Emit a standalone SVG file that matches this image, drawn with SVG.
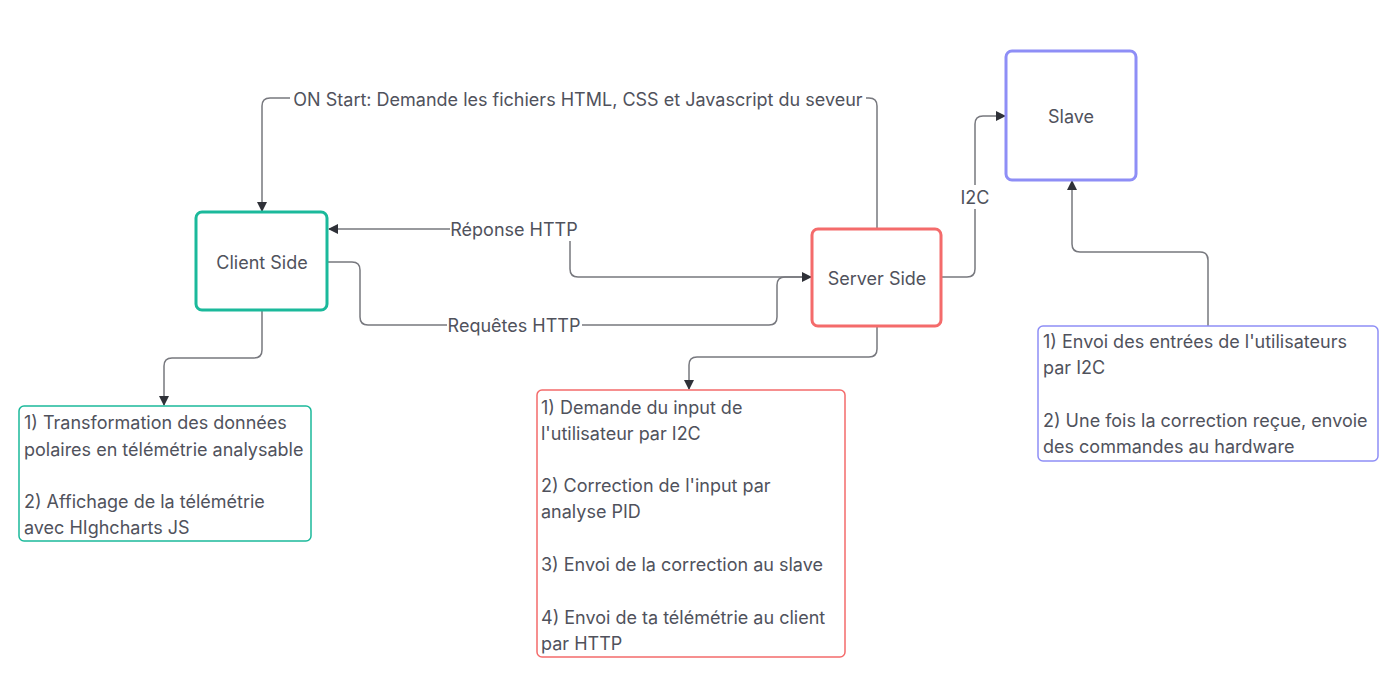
<svg xmlns="http://www.w3.org/2000/svg" width="1397" height="699" viewBox="0 0 1397 699">
<style>
.t{font-family:Inter,"Noto Sans","Liberation Sans",sans-serif;font-size:18px;fill:#50525c}
.c{text-anchor:middle;dominant-baseline:central}
.ln{fill:none;stroke:#77787e;stroke-width:1.5}
.bg{fill:#ffffff}
</style>
<defs>
<marker id="ar" viewBox="0 0 10 10" refX="9" refY="5" markerWidth="10" markerHeight="10" markerUnits="userSpaceOnUse" orient="auto">
<path d="M0,0 L10,5 L0,10 Z" fill="#2f3138"/>
</marker>
</defs>
<rect width="1397" height="699" fill="#ffffff"/>
<g id="connectors">
<path class="ln" d="M877,229 V106 Q877,98 869,98 H270 Q262,98 262,106 V211" marker-end="url(#ar)"/>
<path class="ln" d="M812,277 H578 Q570,277 570,269 V237 Q570,229 562,229 H329" marker-end="url(#ar)"/>
<path class="ln" d="M327,262 H352 Q360,262 360,270 V317 Q360,325 368,325 H769 Q777,325 777,317 V285 Q777,277 785,277 H811" marker-end="url(#ar)"/>
<path class="ln" d="M941,277 H967 Q975,277 975,269 V124 Q975,116 983,116 H1005" marker-end="url(#ar)"/>
<path class="ln" d="M1208,326 V260 Q1208,252 1200,252 H1080 Q1072,252 1072,244 V181" marker-end="url(#ar)"/>
<path class="ln" d="M262,310 V350 Q262,358 254,358 H172 Q164,358 164,366 V405" marker-end="url(#ar)"/>
<path class="ln" d="M877,326 V349 Q877,357 869,357 H697 Q689,357 689,365 V389" marker-end="url(#ar)"/>
<rect class="bg" x="290" y="88" width="576" height="22"/>
<text class="t c" x="578" y="99">ON Start: Demande les fichiers HTML, CSS et Javascript du seveur</text>
<rect class="bg" x="450" y="218" width="129" height="23"/>
<text class="t c" x="514" y="229">Réponse HTTP</text>
<rect class="bg" x="447" y="314" width="135" height="23"/>
<text class="t c" x="514" y="325">Requêtes HTTP</text>
<rect class="bg" x="957" y="185" width="36" height="24"/>
<text class="t c" x="975" y="197">I2C</text>
</g>
<g id="client">
<rect x="196" y="212" width="131" height="98" rx="6" fill="#fff" stroke="#1bb99b" stroke-width="3"/>
<text class="t c" x="262" y="262">Client Side</text>
</g>
<g id="server">
<rect x="812" y="229" width="129" height="97" rx="6" fill="#fff" stroke="#f46b6b" stroke-width="3"/>
<text class="t c" x="877" y="278">Server Side</text>
</g>
<g id="slave">
<rect x="1006" y="51" width="130" height="129" rx="6" fill="#fff" stroke="#8e8ef6" stroke-width="3"/>
<text class="t c" x="1071" y="116">Slave</text>
</g>
<g id="client-note">
<rect x="19" y="406" width="292" height="135" rx="5" fill="#fff" stroke="#1bb99b" stroke-width="1.5"/>
<text class="t" x="24" y="429">1) Transformation des données</text>
<text class="t" x="24" y="456">polaires en télémétrie analysable</text>
<text class="t" x="24" y="508">2) Affichage de la télémétrie</text>
<text class="t" x="24" y="534">avec HIghcharts JS</text>
</g>
<g id="server-note">
<rect x="537" y="390" width="308" height="267" rx="5" fill="#fff" stroke="#f46b6b" stroke-width="1.5"/>
<text class="t" x="541" y="414">1) Demande du input de</text>
<text class="t" x="541" y="440">l'utilisateur par I2C</text>
<text class="t" x="541" y="492">2) Correction de l'input par</text>
<text class="t" x="541" y="518">analyse PID</text>
<text class="t" x="541" y="571">3) Envoi de la correction au slave</text>
<text class="t" x="541" y="624">4) Envoi de ta télémétrie au client</text>
<text class="t" x="541" y="650">par HTTP</text>
</g>
<g id="slave-note">
<rect x="1038" y="326" width="340" height="135" rx="5" fill="#fff" stroke="#8e8ef6" stroke-width="1.5"/>
<text class="t" x="1043" y="348">1) Envoi des entrées de l'utilisateurs</text>
<text class="t" x="1043" y="374">par I2C</text>
<text class="t" x="1043" y="427">2) Une fois la correction reçue, envoie</text>
<text class="t" x="1043" y="453">des commandes au hardware</text>
</g>
</svg>
